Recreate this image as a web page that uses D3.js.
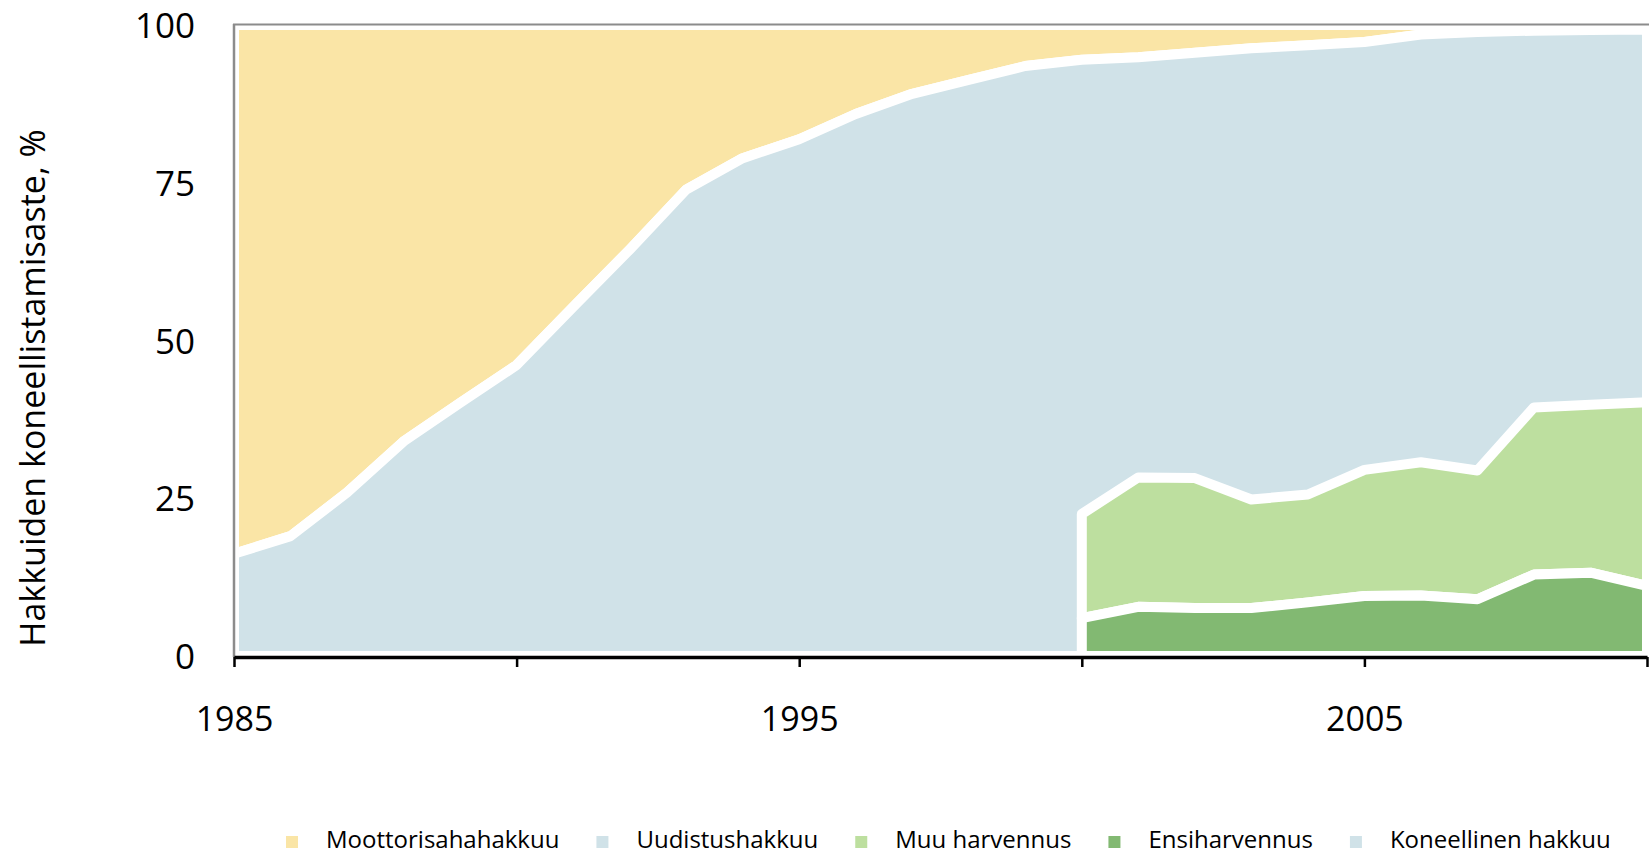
<!DOCTYPE html>
<html>
<head>
<meta charset="utf-8">
<script src="https://cdn.jsdelivr.net/npm/d3@7"></script>
<style>
  html, body { margin: 0; padding: 0; background: #ffffff; }
  svg { display: block; }
  text { font-family: "Open Sans", sans-serif; fill: #000; }
</style>
</head>
<body>
<svg id="chart" width="1649" height="854"></svg>
<script>
// ---------------- data ----------------
const years = [1985, 1986, 1987, 1988, 1989, 1990, 1991, 1992, 1993, 1994,
               1995, 1996, 1997, 1998, 1999, 2000, 2001, 2002, 2003, 2004,
               2005, 2006, 2007, 2008, 2009, 2010];
// Koneellinen hakkuu (machine share, %)
const koneellinenHakkuu = [16.2, 19.0, 25.9, 34.0, 40.1, 46.1, 55.3, 64.4, 73.9, 78.9,
                           81.9, 85.9, 89.1, 91.3, 93.5, 94.5, 94.9, 95.6, 96.3, 96.8,
                           97.3, 98.5, 98.9, 99.1, 99.2, 99.3];
// Moottorisahahakkuu (chainsaw share, %)
const moottorisahahakkuu = [83.8, 81.0, 74.1, 66.0, 59.9, 53.9, 44.7, 35.6, 26.1, 21.1,
                            18.1, 14.1, 10.9, 8.7, 6.5, 5.5, 5.1, 4.4, 3.7, 3.2,
                            2.7, 1.5, 0, 0, 0, 0];
// 2000-2010 breakdown of machine harvesting
const harvennusYears = [2000, 2001, 2002, 2003, 2004, 2005, 2006, 2007, 2008, 2009, 2010];
const ensiharvennus  = [6.0, 7.8, 7.6, 7.6, 8.5, 9.5, 9.6, 9.0, 12.9, 13.2, 11.1];
const muuHarvennus   = [16.5, 20.5, 20.6, 17.2, 17.1, 20.0, 21.1, 20.4, 26.5, 26.6, 29.1];
const uudistushakkuu = [72.0, 66.6, 67.3, 71.5, 71.2, 67.8, 67.8, 69.5, 59.7, 59.4, 59.1];

const yTicks = [0, 25, 50, 75, 100];
const xTicks = [1985, 1990, 1995, 2000, 2005, 2010];
const xTickLabels = ["1985", "", "1995", "", "2005", ""];
const yTitle = "Hakkuiden koneellistamisaste, %";
const legendNames = ["Moottorisahahakkuu", "Uudistushakkuu", "Muu harvennus", "Ensiharvennus", "Koneellinen hakkuu"];

// ---------------- styles ----------------
const COL = {
  yellow: "#fae5a6",
  blue: "#d0e2e8",
  lightGreen: "#bddf9f",
  darkGreen: "#82b972"
};
const legendColors = [COL.yellow, COL.blue, COL.lightGreen, COL.darkGreen, COL.blue];
const SEP = 10; // white separator width

const svg = d3.select("#chart");

const x = d3.scaleLinear().domain([1985, 2010]).range([234, 1647]);
const y = d3.scaleLinear().domain([0, 100]).range([656, 25]);

// ---------- main stack (machine + chainsaw) ----------
const mainRows = years.map((yr, i) => ({
  year: yr,
  kone: koneellinenHakkuu[i],
  saha: moottorisahahakkuu[i]
}));
const mainStack = d3.stack().keys(["kone", "saha"])(mainRows);

// ---------- breakdown stack 2000-2010 ----------
const harvRows = harvennusYears.map((yr, i) => ({
  year: yr,
  ensi: ensiharvennus[i],
  muu: muuHarvennus[i],
  uud: uudistushakkuu[i]
}));
const harvStack = d3.stack().keys(["ensi", "muu", "uud"])(harvRows);

const area = d3.area()
  .x(d => x(d.data.year))
  .y0(d => y(d[0]))
  .y1(d => y(d[1]))
  .curve(d3.curveLinear);

const g = svg.append("g");

// Moottorisahahakkuu (yellow)
g.append("path")
  .datum(mainStack[1])
  .attr("d", area)
  .attr("fill", COL.yellow)
  .attr("stroke", "#fff").attr("stroke-width", SEP).attr("stroke-linejoin", "round");

// Uudistushakkuu (blue, shares the machine colour, no own border)
g.append("path")
  .datum(harvStack[2])
  .attr("d", area)
  .attr("fill", COL.blue);

// Koneellinen hakkuu (blue)
g.append("path")
  .datum(mainStack[0])
  .attr("d", area)
  .attr("fill", COL.blue)
  .attr("stroke", "#fff").attr("stroke-width", SEP).attr("stroke-linejoin", "round");

// Muu harvennus (light green)
g.append("path")
  .datum(harvStack[1])
  .attr("d", area)
  .attr("fill", COL.lightGreen)
  .attr("stroke", "#fff").attr("stroke-width", SEP).attr("stroke-linejoin", "round");

// Ensiharvennus (dark green)
g.append("path")
  .datum(harvStack[0])
  .attr("d", area)
  .attr("fill", COL.darkGreen)
  .attr("stroke", "#fff").attr("stroke-width", SEP).attr("stroke-linejoin", "round");

// ---------- plot border (top) ----------
svg.append("line")
  .attr("x1", 233).attr("x2", 1649)
  .attr("y1", 24.5).attr("y2", 24.5)
  .attr("stroke", "#8c8c8c").attr("stroke-width", 2);

// ---------- y axis ----------
const yAxis = d3.axisLeft(y)
  .tickValues(yTicks)
  .tickSize(0)
  .tickSizeOuter(0)
  .tickPadding(39)
  .tickFormat(d3.format("d"));
const yg = svg.append("g").attr("transform", "translate(234,0)").call(yAxis);
yg.select(".domain").attr("stroke", "#8c8c8c").attr("stroke-width", 2.5)
  .attr("d", `M0,${y(100) - 1}V${y(0) + 1}`);
yg.selectAll(".tick text")
  .attr("font-size", 35)
  .attr("font-family", "'Open Sans', sans-serif")
  .attr("fill", "#000")
  .attr("dy", "0.357em");

// ---------- x axis ----------
const xAxis = d3.axisBottom(x)
  .tickValues(xTicks)
  .tickSize(10)
  .tickSizeOuter(0)
  .tickPadding(40)
  .tickFormat((d, i) => xTickLabels[i]);
const xg = svg.append("g").attr("transform", `translate(0,${657})`).call(xAxis);
xg.select(".domain").attr("stroke", "#000").attr("stroke-width", 3.5);
xg.selectAll(".tick line").attr("stroke", "#000").attr("stroke-width", 2.5);
xg.selectAll(".tick text")
  .attr("font-size", 34)
  .attr("font-family", "'Open Sans', sans-serif")
  .attr("fill", "#000");

// ---------- y title ----------
svg.append("text")
  .attr("transform", `translate(45,${388}) rotate(-90)`)
  .attr("text-anchor", "middle")
  .attr("font-size", 34)
  .text(yTitle);

// ---------- legend ----------
const legend = svg.append("g").attr("class", "legend");
let lx = 286;
const ly = 848; // text baseline
legendNames.forEach((name, i) => {
  legend.append("rect")
    .attr("x", lx).attr("y", ly - 12)
    .attr("width", 12).attr("height", 12)
    .attr("fill", legendColors[i]);
  const t = legend.append("text")
    .attr("x", lx + 40).attr("y", ly)
    .attr("font-size", 24)
    .text(name);
  const w = t.node().getComputedTextLength();
  lx = lx + 40 + w + 37;
});
</script>
</body>
</html>
